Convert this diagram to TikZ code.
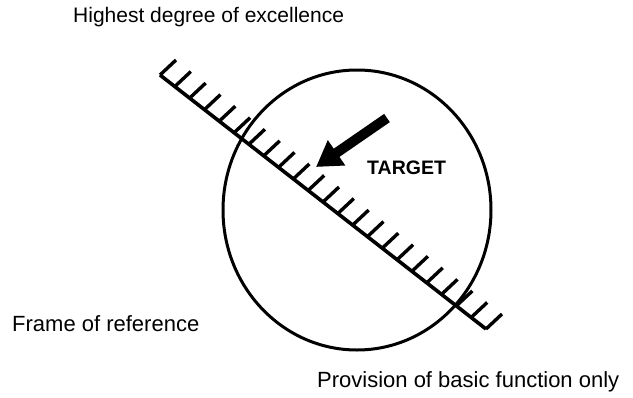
\documentclass[tikz,border=0pt]{standalone}
\usepackage{fontspec}
\setmainfont{Liberation Sans}
\usepackage{tikz}
\usetikzlibrary{calc,arrows.meta}
\tikzset{every picture/.append style={font=\fontsize{21}{24}\selectfont}}
\tikzset{
  scaleline/.style={line width=3.6pt},
  tickmark/.style={line width=3.4pt},
  label/.style={anchor=base west,inner sep=0pt},
  biglabel/.style={label,font=\fontsize{22}{25}\selectfont},
}

\begin{document}
\begin{tikzpicture}[x=1pt,y=-1pt]
    \useasboundingbox (0,0) rectangle (633,397);
    \draw[line width=3pt] (357,210) ellipse [x radius=134, y radius=140];
    \coordinate (top) at (160,75);
    \coordinate (bot) at (486,329);
    \draw[scaleline] (top) -- (bot);
    \foreach \i in {0,...,22} {\draw[tickmark] ($(top)!\i/22!(bot)$) -- ++(16,-15);}
    \coordinate (tail) at (387,118);
    \coordinate (tip) at (316,167);
    \draw[line width=10pt,-{Triangle[length=25pt,width=29pt]}] (tail) -- (tip);
    \node[label,font=\fontsize{19.5}{22}\selectfont\bfseries] (target) at (367,174) {TARGET};
    \node[label] (high) at (73,22) {Highest degree of excellence};
    \node[biglabel] (frame) at (12,331) {Frame of reference};
    \node[biglabel] (basic) at (317,387) {Provision of basic function only};
  \end{tikzpicture}
\end{document}
